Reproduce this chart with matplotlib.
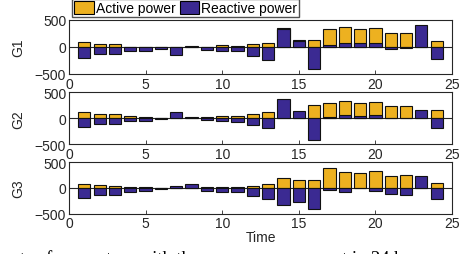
import matplotlib
matplotlib.use("Agg")
import matplotlib.pyplot as plt
import numpy as np

hours = np.arange(1, 25)

# active / reactive power of each generator
g1_p = [90, 55, 50, 0, 0, 0, 0, 8, 0, 25, 18, 50, 80, 350, 135, 117, 327, 358, 320, 340, 253, 253, 0, 105]
g1_q = [-200, -140, -140, -75, -75, -37, -150, -8, -55, -75, -85, -165, -235, 335, 105, -400, 43, 62, 62, 62, -37, -25, 400, -222]
g2_p = [118, 85, 79, 40, 33, 10, 0, 0, 26, 46, 46, 79, 118, 0, 0, 263, 296, 335, 290, 322, 243, 243, 0, 151]
g2_q = [-158, -112, -118, -60, -60, -20, 125, 26, -40, -60, -72, -132, -190, 380, 138, -408, 33, 66, 40, 66, 0, 0, 158, -190]
g3_p = [85, 53, 46, 26, 20, 0, 0, 0, 20, 26, 26, 46, 85, 190, 151, 151, 388, 316, 296, 329, 237, 257, 0, 105]
g3_q = [-190, -138, -138, -79, -60, -25, 33, 72, -53, -72, -85, -158, -224, -335, -276, -408, -46, -86, 0, -66, -118, -145, 224, -217]

names = ["G1", "G2", "G3"]
p_all = [g1_p, g2_p, g3_p]
q_all = [g1_q, g2_q, g3_q]

orange = "#EDB120"
blue = "#3B2A92"
txt = "#262626"

plt.rcParams["font.family"] = ["Liberation Sans", "DejaVu Sans"]
plt.rcParams["font.size"] = 10

fig = plt.figure(figsize=(4.64, 2.55), dpi=100)

# axes boxes in pixels: (top, bottom)
boxes = [(20.7, 75.0), (93.3, 145.3), (163.3, 214.5)]
left, right = 69 / 464, 452 / 464

for k in range(3):
    top, bot = boxes[k]
    ax = fig.add_axes([left, (255 - bot) / 255, right - left, (bot - top) / 255])
    ax.axhline(0, color=txt, lw=0.8, zorder=1)
    ax.bar(hours, p_all[k], width=0.8, color=orange, edgecolor="#111111", linewidth=0.8, zorder=2)
    ax.bar(hours, q_all[k], width=0.8, color=blue, edgecolor="#111111", linewidth=0.8, zorder=3)
    ax.set_xlim(0, 25)
    ax.set_ylim(-500, 500)
    ax.set_xticks([0, 5, 10, 15, 20, 25])
    ax.set_yticks([-500, 0, 500])
    ax.tick_params(direction="in", length=3, colors=txt, labelsize=10, pad=2, width=0.6)
    for s in ax.spines.values():
        s.set_color(txt)
        s.set_linewidth(0.8)
    ax.set_ylabel(names[k], color=txt, fontsize=10)
    ax.yaxis.set_label_coords(-0.115, 0.5)
    if k == 2:
        ax.set_xlabel("Time", color=txt, fontsize=10, labelpad=0)

handles = [plt.Rectangle((0, 0), 1, 1, facecolor=orange, edgecolor="k", lw=0.8),
           plt.Rectangle((0, 0), 1, 1, facecolor=blue, edgecolor="k", lw=0.8)]
fig.legend(handles, ["Active power", "Reactive power"], ncol=2,
           loc="upper left", bbox_to_anchor=(72 / 464, 1.0),
           frameon=True, fancybox=False, edgecolor=txt, fontsize=10,
           handlelength=1.4, handleheight=1.0, handletextpad=0.15,
           columnspacing=0.3, borderpad=0.15, borderaxespad=0.0)

# caption of the source figure, cut off at the bottom edge (only ascender tops show)
fig.text(-12 / 464, -0.0365, "ments of generators with the power arrangement in 24 h",
         family="Liberation Serif", fontsize=13.3, va="baseline", ha="left", color="k")

fig.savefig("out.png", dpi=100)
